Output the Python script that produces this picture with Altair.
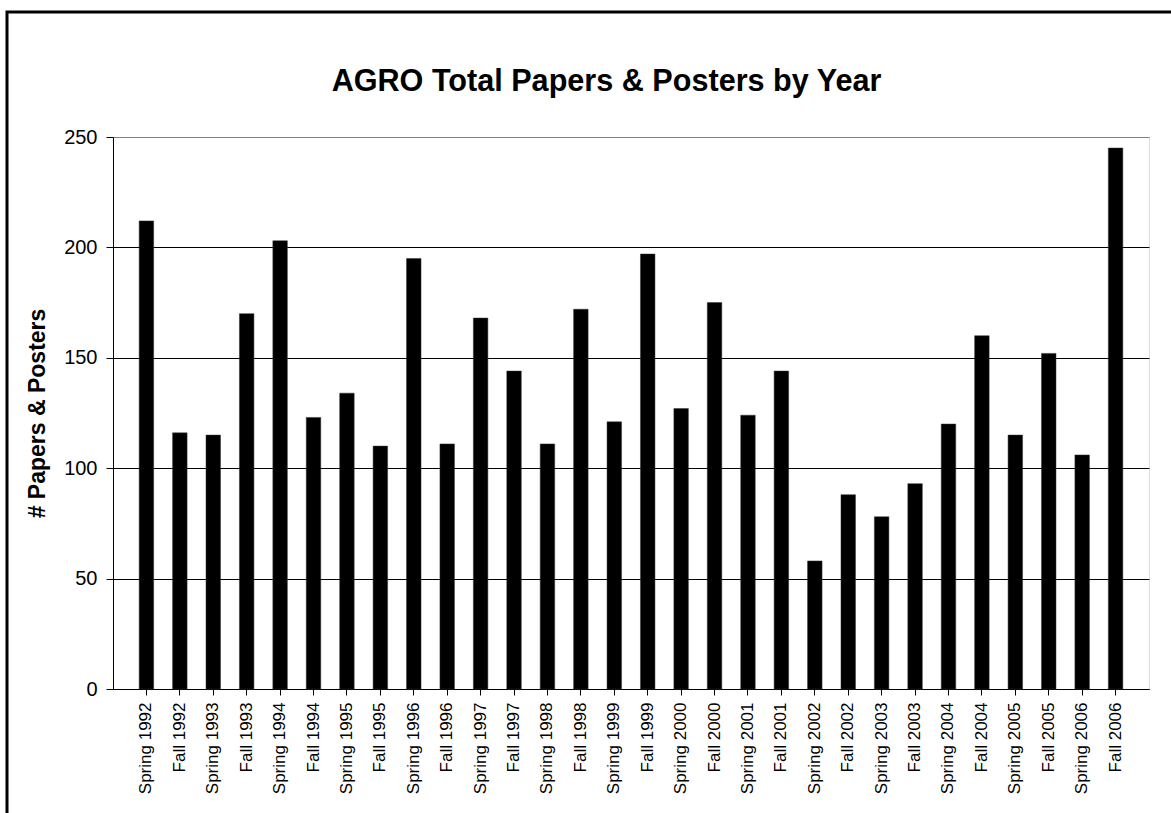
import altair as alt
import pandas as pd

chart_title = "AGRO Total Papers & Posters by Year"
periods = [
    "Spring 1992", "Fall 1992", "Spring 1993", "Fall 1993", "Spring 1994", "Fall 1994",
    "Spring 1995", "Fall 1995", "Spring 1996", "Fall 1996", "Spring 1997", "Fall 1997",
    "Spring 1998", "Fall 1998", "Spring 1999", "Fall 1999", "Spring 2000", "Fall 2000",
    "Spring 2001", "Fall 2001", "Spring 2002", "Fall 2002", "Spring 2003", "Fall 2003",
    "Spring 2004", "Fall 2004", "Spring 2005", "Fall 2005", "Spring 2006", "Fall 2006",
]
counts = [
    212, 116, 115, 170, 203, 123,
    134, 110, 195, 111, 168, 144,
    111, 172, 121, 197, 127, 175,
    124, 144, 58, 88, 78, 93,
    120, 160, 115, 152, 106, 245,
]
y_ticks = [0, 50, 100, 150, 200, 250]

FONT = "Liberation Sans, Arial, Helvetica, sans-serif"

df = pd.DataFrame({"period": periods, "count": counts})

bars = alt.Chart(df).mark_bar(color="black", stroke="#333333", strokeWidth=0.5).encode(
    x=alt.X(
        "period:N",
        sort=periods,
        scale=alt.Scale(paddingInner=0.566, paddingOuter=0.783),
        axis=alt.Axis(
            title=None,
            labelAngle=270,
            labelFontSize=17,
            labelFont=FONT,
            labelColor="black",
            labelPadding=7,
            tickSize=6,
            tickColor="black",
            domainColor="black",
            grid=False,
        ),
    ),
    y=alt.Y(
        "count:Q",
        scale=alt.Scale(domain=[0, 250], nice=False),
        axis=alt.Axis(
            title="# Papers & Posters",
            titleFont=FONT,
            titleFontSize=23,
            titleFontWeight="bold",
            titleColor="black",
            titleAngle=270,
            titleX=-76,
            titleY=276,
            titleAlign="center",
            titleBaseline="middle",
            values=y_ticks,
            labelFontSize=20,
            labelFont=FONT,
            labelColor="black",
            labelPadding=9,
            tickSize=7,
            tickColor="black",
            domainColor="black",
            grid=True,
            gridColor=alt.condition(alt.datum.value == 250, alt.value("#808080"), alt.value("black")),
            gridWidth=1,
        ),
    ),
)

frame = alt.Chart(pd.DataFrame({"k": [0]})).mark_rect(
    fillOpacity=0, stroke="black", strokeWidth=3
).encode(
    x=alt.value(-106), x2=alt.value(1100), y=alt.value(-125), y2=alt.value(720)
)

title_text = alt.Chart(pd.DataFrame({"t": [chart_title]})).mark_text(
    font=FONT, fontSize=30.6, fontWeight="bold", color="black",
    align="center", baseline="alphabetic",
).encode(
    text="t:N", x=alt.value(493.5), y=alt.value(-46)
)

chart = alt.layer(bars, frame, title_text).properties(
    width=1036,
    height=552,
    autosize=alt.AutoSizeParams(type="none"),
    padding={"left": 113, "top": 137, "right": 22, "bottom": 124},
).configure_view(stroke="#808080", strokeWidth=1).configure(background="white")

chart.save("out.html", embed_options={"renderer": "svg", "actions": False})
